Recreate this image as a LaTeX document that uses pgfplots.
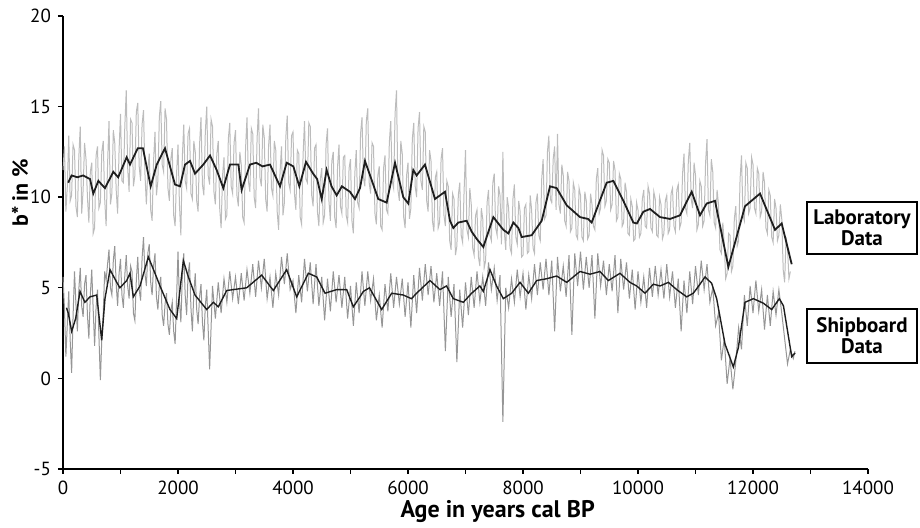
\documentclass[border=0pt]{standalone}
\usepackage{fontspec}
\setmainfont{PT Sans}
\usepackage{pgfplots}
\pgfplotsset{compat=1.18}
\definecolor{labraw}{RGB}{188,188,188}
\definecolor{shipraw}{RGB}{150,150,150}
\definecolor{smoothc}{RGB}{30,30,30}
\begin{document}
\begin{tikzpicture}
\useasboundingbox (-31.5pt,-29.5pt) rectangle (428.5pt,234.5pt);
\begin{axis}[
  at={(0,0)}, anchor=south west,
  scale only axis, width=402.5pt, height=226.5pt,
  xmin=0, xmax=14000, ymin=-5, ymax=20,
  axis lines*=left,
  axis line style={line width=0.8pt},
  xtick={0,2000,...,14000}, minor xtick={1000,3000,...,13000},
  ytick={-5,0,5,10,15,20},
  scaled x ticks=false,
  tick align=outside, major tick length=2.5pt, minor tick length=2.5pt,
  every tick/.style={black, line width=0.7pt},
  tick label style={font=\fontsize{9.5}{10}\selectfont},
  /pgf/number format/assume math mode=true,
  /pgf/number format/1000 sep={},
  xlabel={Age in years cal BP},
  ylabel={b* in \%},
  xlabel style={font=\fontsize{12}{13}\selectfont\bfseries, at={(axis description cs:0.54,-0.093)}, anchor=center},
  ylabel style={font=\fontsize{11}{12}\selectfont\bfseries, at={(axis description cs:-0.0534,0.61)}, anchor=center},
  clip=false,
]
% Laboratory raw
\addplot[labraw, line width=0.5pt] coordinates {
(0,11.5)(25,12.8)(50,9.2)(75,10.6)(100,13.4)(125,9.8)(150,10.1)(175,12.9)(200,12.6)(225,9.5)
(250,8.9)(275,12.2)(300,13.9)(325,9.1)(350,10.4)(375,13.0)(400,12.1)(425,10.0)(450,8.6)(475,11.4)
(500,11.9)(525,8.0)(550,8.3)(575,12.3)(600,12.8)(625,9.4)(650,9.7)(675,12.5)(700,13.1)(725,9.9)
(750,8.4)(775,11.8)(800,14.2)(825,9.6)(850,10.2)(875,13.7)(900,13.0)(925,10.4)(950,9.1)(975,12.6)
(1000,14.6)(1025,10.9)(1050,10.8)(1075,13.9)(1100,15.9)(1125,11.6)(1150,10.3)(1175,14.3)(1200,14.1)(1225,10.6)
(1250,11.2)(1275,14.7)(1300,15.2)(1325,11.7)(1350,10.9)(1375,14.0)(1400,14.8)(1425,11.3)(1450,9.6)(1475,11.5)
(1500,12.4)(1525,9.3)(1550,8.7)(1575,12.0)(1600,13.6)(1625,10.1)(1650,10.9)(1675,14.4)(1700,15.3)(1725,11.8)
(1750,11.4)(1775,14.9)(1800,14.3)(1825,10.5)(1850,9.8)(1875,12.1)(1900,12.7)(1925,9.0)(1950,8.4)(1975,11.3)
(2000,12.9)(2025,9.6)(2050,7.9)(2075,12.2)(2100,14.0)(2125,10.9)(2150,10.5)(2175,13.5)(2200,13.8)(2225,10.2)
(2250,9.9)(2275,13.1)(2300,12.5)(2325,9.8)(2350,9.2)(2375,12.9)(2400,14.4)(2425,10.7)(2450,10.1)(2475,13.6)
(2500,15.0)(2525,11.2)(2550,10.7)(2575,14.3)(2600,13.9)(2625,10.3)(2650,9.6)(2675,12.4)(2700,13.1)(2725,9.4)
(2750,8.3)(2775,11.2)(2800,12.2)(2825,8.8)(2850,9.0)(2875,13.2)(2900,14.1)(2925,10.6)(2950,10.2)(2975,13.0)
(3000,13.7)(3025,10.1)(3050,9.5)(3075,12.5)(3100,11.8)(3125,8.9)(3150,8.6)(3175,12.7)(3200,14.4)(3225,10.9)
(3250,10.3)(3275,13.8)(3300,13.5)(3325,10.0)(3350,9.4)(3375,13.2)(3400,14.9)(3425,11.1)(3450,10.6)(3475,14.0)
(3500,13.3)(3525,9.9)(3550,9.2)(3575,12.8)(3600,14.0)(3625,10.5)(3650,10.1)(3675,13.1)(3700,12.6)(3725,9.2)
(3750,8.2)(3775,11.4)(3800,12.8)(3825,9.0)(3850,9.7)(3875,13.3)(3900,14.5)(3925,10.8)(3950,10.4)(3975,13.4)
(4000,13.6)(4025,10.2)(4050,9.3)(4075,12.6)(4100,12.4)(4125,8.9)(4150,8.5)(4175,12.3)(4200,14.2)(4225,11.0)
(4250,10.8)(4275,14.1)(4300,13.9)(4325,10.1)(4350,9.5)(4375,12.7)(4400,12.9)(4425,9.2)(4450,8.4)(4475,11.0)
(4500,11.6)(4525,8.6)(4550,9.0)(4575,12.9)(4600,13.8)(4625,9.8)(4650,8.7)(4675,12.0)(4700,12.5)(4725,8.9)
(4750,8.3)(4775,11.7)(4800,12.9)(4825,9.5)(4850,9.1)(4875,12.2)(4900,12.3)(4925,9.0)(4950,8.6)(4975,11.6)
(5000,12.1)(5025,8.7)(5050,8.0)(5075,11.3)(5100,12.6)(5125,9.7)(5150,9.4)(5175,13.5)(5200,14.4)(5225,11.1)
(5250,10.6)(5275,14.2)(5300,14.9)(5325,10.8)(5350,10.2)(5375,13.0)(5400,12.8)(5425,9.1)(5450,8.5)(5475,11.2)
(5500,11.7)(5525,8.4)(5550,8.2)(5575,11.6)(5600,12.3)(5625,9.3)(5650,9.1)(5675,13.0)(5700,14.2)(5725,10.9)
(5750,10.5)(5775,14.6)(5800,15.9)(5825,10.4)(5850,9.8)(5875,13.1)(5900,12.4)(5925,8.9)(5950,8.3)(5975,11.2)
(6000,11.9)(6025,8.8)(6050,9.4)(6075,13.2)(6100,14.1)(6125,10.6)(6150,10.0)(6175,13.8)(6200,14.7)(6225,10.9)
(6250,10.4)(6275,13.9)(6300,13.6)(6325,9.8)(6350,9.2)(6375,12.6)(6400,12.0)(6425,8.7)(6450,8.1)(6475,11.1)
(6500,11.4)(6525,8.3)(6550,8.6)(6575,12.1)(6600,12.7)(6625,9.0)(6650,8.4)(6675,10.9)(6700,10.6)(6725,7.6)
(6750,7.1)(6775,10.2)(6800,9.9)(6825,6.8)(6850,7.3)(6875,10.1)(6900,10.8)(6925,7.9)(6950,7.5)(6975,10.3)
(7000,12.6)(7025,8.2)(7050,7.8)(7075,10.5)(7100,9.6)(7125,7.2)(7150,6.8)(7175,9.0)(7200,9.3)(7225,6.7)
(7250,6.2)(7275,9.4)(7300,8.8)(7325,6.1)(7350,6.5)(7375,9.7)(7400,10.4)(7425,7.9)(7450,7.6)(7475,10.8)
(7500,11.3)(7525,8.3)(7550,7.9)(7575,10.6)(7600,10.1)(7625,7.4)(7650,12.5)(7675,8.1)(7700,7.1)(7725,10.0)
(7750,9.4)(7775,7.2)(7800,6.9)(7825,9.9)(7850,10.7)(7875,7.8)(7900,7.4)(7925,9.8)(7950,9.2)(7975,6.7)
(8000,6.8)(8025,9.4)(8050,9.6)(8075,6.9)(8100,7.0)(8125,10.1)(8150,9.3)(8175,7.2)(8200,6.9)(8225,9.7)
(8250,10.2)(8275,7.9)(8300,7.6)(8325,11.0)(8350,12.1)(8375,8.8)(8400,9.0)(8425,12.5)(8450,13.4)(8475,9.9)
(8500,9.7)(8525,12.1)(8550,12.8)(8575,9.3)(8600,13.5)(8625,9.6)(8650,9.1)(8675,11.8)(8700,11.2)(8725,8.7)
(8750,8.4)(8775,11.4)(8800,10.9)(8825,8.1)(8850,8.3)(8875,10.8)(8900,10.4)(8925,7.9)(8950,7.7)(8975,10.5)
(9000,10.1)(9025,7.8)(9050,7.6)(9075,10.3)(9100,9.8)(9125,7.7)(9150,7.9)(9175,10.2)(9200,9.6)(9225,8.4)
(9250,8.2)(9275,11.0)(9300,11.6)(9325,9.1)(9350,9.4)(9375,12.6)(9400,12.3)(9425,9.5)(9450,9.8)(9475,12.1)
(9500,11.9)(9525,9.3)(9550,9.6)(9575,12.0)(9600,11.5)(9625,8.7)(9650,8.9)(9675,11.3)(9700,11.0)(9725,8.4)
(9750,8.6)(9775,10.8)(9800,10.3)(9825,8.0)(9850,7.9)(9875,9.9)(9900,9.5)(9925,7.6)(9950,7.7)(9975,9.7)
(10000,9.3)(10025,7.8)(10050,8.0)(10075,9.9)(10100,10.4)(10125,8.4)(10150,8.3)(10175,10.6)(10200,10.2)(10225,8.3)
(10250,8.1)(10275,10.3)(10300,9.9)(10325,7.9)(10350,7.8)(10375,10.0)(10400,9.6)(10425,7.7)(10450,8.0)(10475,9.8)
(10500,10.1)(10525,8.0)(10550,8.2)(10575,10.2)(10600,10.5)(10625,8.4)(10650,8.1)(10675,10.4)(10700,10.7)(10725,8.3)
(10750,8.6)(10775,11.3)(10800,12.4)(10825,9.4)(10850,9.1)(10875,12.0)(10900,13.0)(10925,9.9)(10950,9.4)(10975,11.9)
(11000,11.2)(11025,8.2)(11050,8.5)(11075,10.9)(11100,10.6)(11125,8.4)(11150,8.7)(11175,11.9)(11200,13.2)(11225,9.3)
(11250,9.0)(11275,12.1)(11300,11.4)(11325,8.6)(11350,8.3)(11375,10.4)(11400,9.6)(11425,7.1)(11450,6.9)(11475,8.6)
(11500,7.4)(11525,5.5)(11550,5.8)(11575,8.0)(11600,7.9)(11625,5.9)(11650,6.2)(11675,8.8)(11700,9.5)(11725,7.3)
(11750,7.6)(11775,11.0)(11800,12.3)(11825,9.0)(11850,8.7)(11875,11.9)(11900,11.6)(11925,9.1)(11950,9.4)(11975,12.2)
(12000,11.8)(12025,9.4)(12050,9.1)(12075,11.6)(12100,11.3)(12125,8.9)(12150,9.2)(12175,11.4)(12200,10.8)(12225,8.3)
(12250,8.0)(12275,10.4)(12300,10.1)(12325,7.8)(12350,7.5)(12375,9.9)(12400,9.4)(12425,7.6)(12450,7.9)(12475,9.6)
(12500,8.8)(12525,6.0)(12550,5.3)(12575,7.8)(12600,7.2)(12625,5.5)(12650,5.9)
};
% Shipboard raw
\addplot[shipraw, line width=0.5pt] coordinates {
(0,5.6)(25,3.9)(50,1.2)(75,3.0)(100,4.8)(125,2.1)(150,0.3)(175,3.4)(200,5.9)(225,4.1)
(250,2.6)(275,4.9)(300,6.1)(325,4.0)(350,3.4)(375,5.2)(400,5.7)(425,3.5)(450,2.2)(475,4.6)
(500,6.0)(525,3.8)(550,1.8)(575,3.9)(600,4.9)(625,2.3)(650,-0.1)(675,2.2)(700,3.6)(725,5.9)
(750,5.4)(775,6.3)(800,7.1)(825,5.0)(850,4.6)(875,6.5)(900,7.3)(925,5.2)(950,4.0)(975,5.8)
(1000,6.6)(1025,4.6)(1050,3.9)(1075,5.7)(1100,6.8)(1125,5.1)(1150,4.4)(1175,6.2)(1200,5.9)(1225,3.6)
(1250,3.2)(1275,5.4)(1300,6.7)(1325,4.9)(1350,4.3)(1375,6.6)(1400,7.8)(1425,5.8)(1450,5.1)(1475,6.9)
(1500,7.4)(1525,5.3)(1550,4.6)(1575,6.2)(1600,6.9)(1625,4.5)(1650,3.8)(1675,5.1)(1700,5.6)(1725,3.5)
(1750,2.9)(1775,4.1)(1800,4.7)(1825,3.0)(1850,2.4)(1875,3.7)(1900,4.2)(1925,2.6)(1950,1.9)(1975,4.4)
(2000,7.0)(2025,4.3)(2050,3.1)(2075,5.6)(2100,6.9)(2125,4.6)(2150,3.5)(2175,5.7)(2200,6.4)(2225,3.9)
(2250,2.6)(2275,4.7)(2300,5.8)(2325,3.8)(2350,3.0)(2375,4.5)(2400,5.2)(2425,3.1)(2450,2.1)(2475,4.0)
(2500,4.9)(2550,0.5)(2600,5.1)(2650,3.3)(2700,5.3)(2750,3.6)(2800,5.5)(2850,4.2)(2900,5.9)(2950,4.4)
(3000,5.6)(3050,4.1)(3100,5.8)(3150,4.3)(3200,6.0)(3250,4.7)(3300,6.3)(3350,4.5)(3400,6.5)(3450,5.0)
(3500,6.6)(3550,4.4)(3600,5.6)(3650,3.9)(3700,5.8)(3750,4.6)(3800,6.7)(3850,5.2)(3900,6.9)(3950,4.9)
(4000,5.4)(4050,3.6)(4100,5.7)(4150,4.2)(4200,6.6)(4250,4.8)(4300,6.4)(4350,4.1)(4400,6.3)(4450,4.0)
(4500,5.6)(4550,3.2)(4600,5.5)(4650,3.7)(4700,5.9)(4750,4.2)(4800,5.7)(4850,3.9)(4900,5.6)(4950,3.3)
(5000,5.1)(5050,2.9)(5100,5.3)(5150,3.6)(5200,5.9)(5250,4.0)(5300,5.9)(5350,4.3)(5400,5.5)(5450,3.2)
(5500,4.6)(5550,2.8)(5600,5.2)(5650,3.7)(5700,5.8)(5750,3.9)(5800,5.6)(5850,4.1)(5900,5.5)(5950,3.4)
(6000,5.3)(6050,2.8)(6100,5.7)(6150,3.6)(6200,6.1)(6250,4.3)(6300,6.3)(6350,4.6)(6400,6.2)(6450,4.2)
(6500,5.8)(6550,4.0)(6600,5.9)(6650,1.5)(6700,5.6)(6750,3.4)(6800,5.2)(6850,0.9)(6900,4.9)(6950,2.8)
(7000,5.3)(7050,3.5)(7100,5.6)(7150,3.9)(7200,5.9)(7250,4.2)(7300,5.6)(7350,4.0)(7400,6.4)(7450,4.9)
(7500,6.1)(7550,4.3)(7600,5.7)(7650,-2.4)(7700,5.0)(7750,3.9)(7800,5.5)(7850,4.2)(7900,6.0)(7950,4.5)
(8000,5.8)(8050,3.8)(8100,5.7)(8150,4.4)(8200,6.3)(8250,4.6)(8300,6.4)(8350,4.9)(8400,6.6)(8450,4.6)
(8500,6.5)(8550,2.6)(8600,6.7)(8650,4.8)(8700,6.2)(8750,4.5)(8800,6.8)(8850,2.4)(8900,6.9)(8950,5.1)
(9000,7.0)(9050,4.9)(9100,6.7)(9150,5.0)(9200,6.8)(9250,3.3)(9300,6.9)(9350,5.1)(9400,6.5)(9450,4.6)
(9500,6.3)(9550,4.8)(9600,6.8)(9650,3.6)(9700,6.6)(9750,4.9)(9800,6.4)(9850,4.4)(9900,6.0)(9950,3.8)
(10000,5.9)(10050,4.2)(10100,5.6)(10150,3.9)(10200,6.1)(10250,4.5)(10300,6.2)(10350,4.6)(10400,6.0)(10450,4.4)
(10500,6.3)(10550,4.5)(10600,5.9)(10650,3.9)(10700,5.5)(10750,2.6)(10800,5.4)(10850,3.6)(10900,5.9)(10950,4.1)
(11000,6.2)(11050,4.6)(11100,6.5)(11150,4.9)(11200,6.3)(11250,4.2)(11300,5.0)(11350,2.9)(11400,3.6)(11450,1.0)
(11500,2.2)(11550,-0.3)(11600,1.1)(11650,-0.6)(11700,0.9)(11750,2.8)(11800,1.6)(11850,4.6)(11900,2.9)(11950,5.1)
(12000,3.6)(12050,5.4)(12100,3.7)(12150,4.9)(12200,2.7)(12250,4.6)(12300,2.9)(12350,4.8)(12400,3.5)(12450,4.9)
(12500,3.6)(12550,2.2)(12600,0.8)(12650,1.6)(12700,1.1)(12730,1.5)
};
% Laboratory smoothed
\addplot[smoothc, line width=0.9pt] coordinates {
(90,10.8)(150,11.2)(250,11.1)(350,11.2)(470,11.0)(527,10.2)(615,10.9)(730,10.5)(875,11.4)(960,11.1)
(1107,12.2)(1165,11.8)(1300,12.7)(1390,12.7)(1525,10.6)(1630,11.8)(1774,12.7)(1948,10.7)(2035,10.6)(2122,11.8)
(2209,12.0)(2296,11.3)(2440,11.8)(2557,12.3)(2673,11.5)(2788,10.5)(2904,11.8)(3050,11.8)(3107,10.4)(3252,11.8)
(3360,11.9)(3470,11.7)(3600,11.8)(3774,10.6)(3890,11.9)(4006,11.7)(4110,10.6)(4226,11.95)(4350,11.3)(4420,11.0)
(4499,9.9)(4585,11.5)(4670,10.6)(4759,10.1)(4850,10.6)(4990,10.3)(5078,9.9)(5165,10.5)(5252,12.0)(5483,9.9)
(5629,9.7)(5774,11.9)(5918,10.0)(6005,9.65)(6092,11.5)(6150,11.2)(6295,11.8)(6469,9.9)(6643,10.3)(6730,8.7)
(6788,8.3)(6875,8.6)(7020,8.7)(7107,8.1)(7194,7.7)(7310,7.25)(7484,8.9)(7658,8.2)(7745,8.0)(7832,8.6)
(7920,8.3)(7977,7.8)(8151,7.9)(8325,8.7)(8470,10.6)(8586,10.5)(8760,9.55)(8850,9.3)(8991,8.9)(9130,8.8)
(9194,8.6)(9455,10.8)(9571,10.9)(9745,9.8)(9919,8.6)(9980,8.55)(10093,9.2)(10209,9.35)(10383,8.9)(10557,8.8)
(10730,9.0)(10934,10.3)(11078,9.0)(11194,9.65)(11339,9.8)(11571,6.15)(11861,9.5)(12122,10.2)(12383,8.2)(12499,8.55)
(12673,6.3)
};
% Shipboard smoothed
\addplot[smoothc, line width=0.7pt] coordinates {
(60,3.9)(92,3.6)(151,2.6)(220,3.3)(296,4.8)(380,4.2)(470,4.5)(586,4.6)(673,2.1)(730,4.4)
(818,6.0)(934,5.3)(990,5.0)(1108,5.4)(1165,5.8)(1223,4.5)(1339,5.1)(1484,6.7)(1600,5.8)(1687,5.1)
(1861,3.8)(1977,3.3)(2093,6.5)(2180,5.6)(2296,4.6)(2499,3.8)(2615,4.2)(2701,3.95)(2847,4.85)(3194,5.0)
(3455,5.7)(3658,4.85)(3890,6.0)(4064,4.5)(4267,5.8)(4412,5.6)(4557,4.7)(4760,4.9)(4934,4.9)(5049,3.95)
(5165,4.5)(5223,4.8)(5330,5.0)(5542,3.8)(5716,4.7)(5918,4.6)(6060,4.4)(6150,4.7)(6382,5.4)(6555,4.9)
(6670,5.1)(6788,4.4)(6962,4.2)(7107,4.7)(7250,5.1)(7310,4.8)(7426,6.0)(7540,5.1)(7658,4.4)(7803,4.7)
(7948,5.3)(8093,4.7)(8238,5.4)(8412,5.5)(8586,5.65)(8760,5.3)(8991,5.9)(9165,5.75)(9339,5.9)(9484,5.4)
(9687,5.8)(9860,5.3)(9977,5.1)(10122,4.7)(10267,5.2)(10383,5.1)(10528,5.3)(10673,4.9)(10846,4.5)(10962,4.7)
(11078,5.2)(11165,5.6)(11280,5.25)(11368,4.4)(11513,1.9)(11658,0.63)(11745,1.7)(11861,4.2)(12006,4.4)(12180,4.15)
(12325,3.8)(12458,4.4)(12530,4.0)(12673,1.2)(12731,1.4)
};
% Series labels
\draw[line width=0.9pt] (axis cs:12939,6.87) rectangle (axis cs:14852,9.74);
\node[font=\fontsize{10.5}{8.8}\selectfont\bfseries, align=center] at (axis cs:13895,8.3) {Laboratory\\Data};
\draw[line width=0.9pt] (axis cs:12939,0.85) rectangle (axis cs:14852,3.83);
\node[font=\fontsize{10.5}{7.8}\selectfont\bfseries, align=center] at (axis cs:13895,2.34) {Shipboard\\Data};
\end{axis}
\end{tikzpicture}
\end{document}
